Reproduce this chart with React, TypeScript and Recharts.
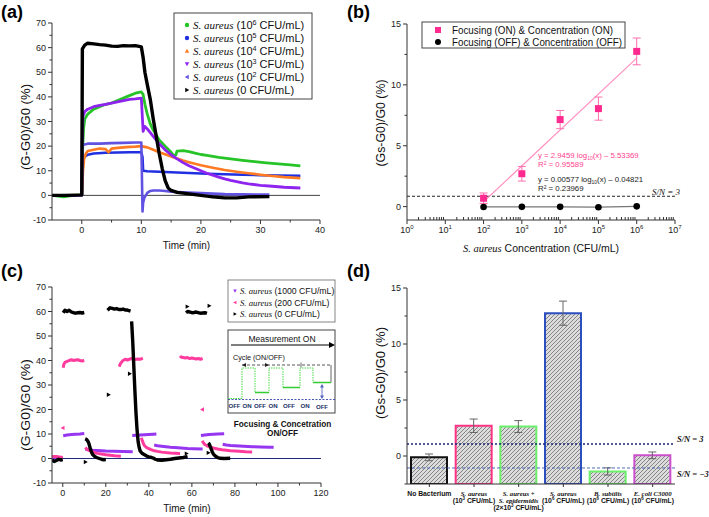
import React from "react";
import {
  ComposedChart,
  BarChart,
  Bar,
  Cell,
  Line,
  Scatter,
  XAxis,
  YAxis,
  ReferenceLine,
  ErrorBar,
} from "recharts";

const SANS = "'Liberation Sans', Arial, Helvetica, sans-serif";
const SERIF = "'Liberation Serif', 'Times New Roman', serif";
const AX = "#333";

type Pt = [number, number];

// ---------- (a) single run per concentration ----------
const A_X_TICKS = [0, 10, 20, 30, 40];
const A_Y_TICKS = [-10, 0, 10, 20, 30, 40, 50, 60, 70];
const A_CONC = ["10^6", "10^5", "10^4", "10^3", "10^2", "0"];

const A_1E6: Pt[] = [
  [-5, 0], [-4, -0.3], [-3, -0.6], [-2, -0.2], [-1, 0], [0, 0.2], [0.15, 19], [0.3, 27], [0.5, 31],
  [1, 33], [2, 35], [3, 36], [4, 37], [5, 37.5], [6, 38.5], [7, 39.5], [8, 40.5], [9, 41.5], [10, 42],
  [10.3, 41], [10.6, 37], [11, 33], [11.5, 29], [12, 26.5], [13, 22.5], [14, 20], [15, 17.5], [15.5, 16],
  [15.8, 16.5], [16, 18], [17, 18.2], [18, 17.8], [19, 17.2], [20, 16.6], [21, 16.2], [22, 15.8],
  [23, 15.4], [25, 14.8], [27, 14.2], [29, 13.7], [31, 13.2], [33, 12.8], [35, 12.4], [36.7, 12],
];
const A_1E5: Pt[] = [
  [-5, 0], [0, 0.1], [0.1, 12.5], [0.3, 15], [0.6, 16], [1, 16.5], [2, 17], [4, 17.3], [6, 17.4],
  [8, 17.5], [10, 17.5], [10.2, 15.5], [10.3, 10], [11, 9.8], [13, 9.6], [15, 9.4], [18, 9.1],
  [21, 8.8], [24, 8.6], [27, 8.4], [30, 8.2], [33, 8.1], [36.7, 8],
];
const A_1E4: Pt[] = [
  [-5, 0], [0, 0.1], [0.1, 4], [0.2, 10], [0.4, 15], [0.7, 17], [1, 18], [2, 18.5], [3, 19], [4, 18.8],
  [4.5, 17.5], [5, 19], [6, 19.3], [7, 19.5], [8, 19.7], [9, 19.8], [10, 20], [11, 19.5], [12, 18.5],
  [13, 17.5], [14, 16.7], [15, 15.8], [16, 15], [17, 14.2], [18, 13.5], [19, 12.8], [20, 12.2],
  [22, 11.2], [24, 10.3], [26, 9.6], [28, 9], [30, 8.4], [32, 7.9], [34, 7.4], [36.7, 7],
];
const A_1E3: Pt[] = [
  [-5, 0], [0, 0.1], [0.05, 20], [0.2, 32], [0.5, 34], [1, 35], [2, 36], [3, 36.5], [4, 37], [5, 37.5],
  [6, 38], [7, 38.5], [8, 39], [9, 39.2], [10, 39.5], [10.3, 26], [10.6, 28], [11, 27], [11.5, 25.5],
  [12, 24], [13, 21], [14, 18.5], [15, 16.5], [16, 14.8], [17, 13.3], [18, 12], [19, 11], [20, 10],
  [21, 9], [22, 8.2], [23, 7.4], [24, 6.7], [25, 6.1], [26, 5.6], [27, 5.1], [28, 4.7], [30, 4.1],
  [32, 3.7], [34, 3.3], [36.7, 3],
];
const A_1E2: Pt[] = [
  [-5, 0], [0, 0.1], [0.1, 20.5], [1, 21], [3, 21], [5, 21.2], [7, 21.3], [9, 21.5], [10, 21.5],
  [10.2, -6.5], [10.3, -3], [10.5, -1], [11, 1], [11.5, 1.8], [12, 2], [13, 2], [14, 1.8], [15, 1.5],
  [17, 1.2], [19, 1], [21, 0.8], [24, 0.5], [27, 0.4], [31.5, 0.3],
];
const A_0: Pt[] = [
  [-5, 0], [-3, 0], [-1, 0.1], [0, 0.2], [0.1, 59.5], [0.5, 61], [1, 61.8], [2, 61.5], [3, 61.2],
  [4, 61], [5, 60.6], [6, 60.5], [7, 60.8], [8, 60.7], [9, 60.8], [10, 60.3], [10.3, 56], [10.6, 50],
  [11, 45], [11.5, 39], [12, 31], [12.5, 24], [13, 17], [13.5, 11], [14, 6], [14.5, 3], [15, 2],
  [16, 1.2], [18, 0.6], [20, 0], [22, -0.6], [24, -1], [26, -1], [28, -0.6], [31.5, -0.5],
];

// ---------- (b) calibration ----------
const B_CONC = [1e2, 1e3, 1e4, 1e5, 1e6];
const B_ON = [0.69, 2.7, 7.15, 8.05, 12.75];
const B_ON_ERR = [0.43, 0.6, 0.75, 0.95, 1.1];
const B_OFF = [-0.03, -0.02, -0.02, -0.05, 0.02];
const B_FIT_X = [1e2, 1e6];
const B_FIT_Y = [0.4, 12.2];
const B_X_TICKS = [1, 10, 1e2, 1e3, 1e4, 1e5, 1e6, 1e7];
const B_Y_TICKS = [0, 5, 10, 15];
const B_SN = 0.85;

// ---------- (c) on/off cycles ----------
const C_X_TICKS = [0, 20, 40, 60, 80, 100, 120];
const C_Y_TICKS = [-10, 0, 10, 20, 30, 40, 50, 60, 70];
const C_CONC = ["1000", "200", "0"];

const C_1000: Pt[][] = [
  [[-5, 0.2], [0, 0.2]],
  [[0.2, 9.3], [2, 9.6], [4, 9.8], [6, 9.9], [8, 10], [10, 10.2]],
  [[10.5, 3.8], [12, 3.6], [14, 3.4], [16, 3.3], [18, 3.2], [20, 3.1], [24, 3], [28, 2.9], [32.5, 2.8]],
  [[32.3, 9.4], [34, 9.5], [36, 9.6], [38, 9.7], [40, 9.8], [42, 9.9], [43.5, 10]],
  [[42.5, 5.5], [44, 5.2], [46, 5], [48, 4.8], [50, 4.6], [52, 4.5], [55, 4.3], [58, 4.1], [61, 4], [65, 3.9]],
  [[64.2, 9.4], [66, 9.6], [68, 9.8], [70, 9.9], [72, 10], [75, 10.1]],
  [[74.3, 5.8], [76, 5.5], [78, 5.3], [80, 5.2], [84, 5], [88, 4.8], [92, 4.7], [96, 4.6], [98, 4.6]],
];
const C_200: Pt[][] = [
  [[-5, 0.8], [-3, 0.8], [-1, 0.5], [0, 0.5]],
  [[0.2, 37], [0.5, 38.5], [1, 39.2], [2, 39.6], [3, 40], [4, 40.3], [5, 40], [6, 40.2], [7, 40.3], [8, 40], [9, 39.8], [10, 40]],
  [[10.5, 4.5], [11, 4], [12, 3.4], [13, 3], [14, 2.7], [15, 2.4], [16, 2.1], [18, 1.8], [20, 1.5], [22, 1.3], [24, 1.1], [27, 0.9]],
  [[26.2, 37.5], [27, 39], [28, 40], [29, 40.5], [30, 40.2], [31, 40.5], [32, 40.8], [33, 40.3], [34, 40.5], [35, 40.6], [36, 40.5], [37.2, 41]],
  [[36.5, 8.5], [37, 7.2], [37.5, 6], [38, 5.2], [39, 4.4], [40, 4], [41, 3.6], [42, 3.3], [44, 2.9], [46, 2.6], [48, 2.4], [50, 2.2], [52, 2.1], [54.5, 2]],
  [[54.5, 41], [55, 41.5], [56, 41.2], [57, 41], [58, 41.2], [59, 40.8], [60, 41], [61, 40.8], [62, 40.6], [63, 40.8], [64, 40.5], [65, 40.8]],
  [[64.8, 7.2], [65.5, 6.2], [66, 5.7], [67, 5.2], [68, 4.8], [70, 4.3], [72, 3.9], [74, 3.6], [76, 3.4], [78, 3.2], [80, 3.1], [82, 3], [85, 2.8], [88, 2.7]],
];
const C_0: Pt[][] = [
  [[-5, -0.5], [-4, -1.2], [-3, -0.8], [-2, -0.3], [-1, -0.6], [0, -0.4]],
  [[0.2, 59.5], [1, 60.5], [2, 60], [3, 60.5], [4, 59.8], [5, 59.5], [6, 59.3], [7, 59.5], [8, 59.6], [9, 59.4], [10, 59.6]],
  [[10.4, 8], [11, 7.8], [11.5, 7.3], [12, 6.5], [12.5, 5], [13, 3.5], [13.5, 2.3], [14, 1.5], [15, 0.7], [16, 0.3], [17, 0], [18, -0.3], [19, -0.5], [20, -0.4]],
  [[20.8, 60.5], [22, 61.5], [23, 61.3], [24, 61], [25, 61.2], [26, 60.8], [27, 60.8], [28, 61], [29, 60.6], [30, 60.6], [31.5, 60.2]],
  [[32, 56], [32.5, 48], [33, 38], [33.5, 28], [34, 19], [34.5, 12], [35, 7], [35.5, 4.5], [36, 3], [37, 2], [38, 1.5], [39, 1], [40, 0.7], [41, 0.5], [42, 0.2], [43, -0.3], [44, -0.6], [46, -0.7], [48, -0.5], [50, -0.3], [52, 0], [54, 0.2], [56, 0.4], [58, 0.8]],
  [[57.3, 59.5], [58, 60], [59, 59.8], [60, 59.5], [61, 59.6], [62, 59.8], [63, 59.5], [64, 59.3], [65, 59.4], [66, 59.5], [67, 59.2]],
  [[67.6, 6.3], [68, 6], [68.5, 5], [69, 3.8], [69.5, 2.7], [70, 1.8], [71, 0.9], [72, 0.4], [73, 0.1], [75, 0], [77.8, 0.1]],
];
const C_0_STRAY: Pt[] = [[10.6, -1.4], [21.3, 26], [31.1, 34.6], [57.9, 62], [68.1, 62.3], [67.7, 2.3], [57.5, 2]];
const C_200_STRAY: Pt[] = [[0, 12.5], [64.8, 20]];

// ---------- (d) selectivity ----------
const D_NAMES = ["none", "sa3", "mix", "sa6", "bs", "ec"];
const D_LABELS = [
  ["No Bacterium"],
  ["S. aureus", "(10^3 CFU/mL)"],
  ["S. aureus +", "S. epidermidis", "(2×10^3 CFU/mL)"],
  ["S. aureus", "(10^6 CFU/mL)"],
  ["B. subtilis", "(10^6 CFU/mL)"],
  ["E. coli C3000", "(10^6 CFU/mL)"],
];
const D_VALUES = [-0.12, 2.7, 2.63, 12.75, -1.38, 0.06];
const D_ERR = [0.3, 0.6, 0.53, 1.08, 0.32, 0.3];
const D_Y_TICKS = [0, 5, 10, 15];
const D_FLOOR = -2.5;
const D_SN = [1.07, -1.07];

// ---------- helpers ----------
const rows = (pts: Pt[]) => pts.map(([x, y]) => ({ x, y }));
const gapped = (segs: Pt[][]) =>
  segs.flatMap((seg, i) => {
    const r: { x: number; y: number | null }[] = rows(seg);
    return i < segs.length - 1 ? [...r, { x: seg[seg.length - 1][0], y: null }] : r;
  });
const withMinors = (m: number[]) =>
  m.flatMap((v, i) => (i < m.length - 1 ? [v, (v + m[i + 1]) / 2] : [v]));
const logTicks = (m: number[]) =>
  m.flatMap((v, i) => (i < m.length - 1 ? [v, ...[2, 3, 4, 5, 6, 7, 8, 9].map((k) => k * v)] : [v]));
const near = (a: number, b: number) => Math.abs(a - b) <= 1e-6 * Math.max(1, Math.abs(b));

const TICK_STYLE = { fontSize: 9, fill: "#222", fontFamily: SANS };

function sup(text: string, size: number) {
  const parts = text.split(/\^(\d+)/);
  return parts.map((p, i) =>
    i % 2 === 1 ? (
      <tspan key={i} dy={-size * 0.38} fontSize={size * 0.65}>{p}</tspan>
    ) : (
      <tspan key={i} dy={i > 0 ? size * 0.38 : 0}>{p}</tspan>
    )
  );
}

function xTick(majors: number[], fmt: (v: number) => React.ReactNode, minorUp = false) {
  return (p: any) => {
    const { x, y, payload } = p;
    const major = majors.some((m) => near(payload.value, m));
    const y1 = major ? y : minorUp ? y - 3 : y;
    const y2 = major ? y + 4 : minorUp ? y : y + 2.5;
    return (
      <g>
        <line x1={x} x2={x} y1={y1} y2={y2} stroke={AX} strokeWidth={1} />
        {major && (
          <text x={x} y={y + 13} textAnchor="middle" style={TICK_STYLE}>
            {fmt(payload.value)}
          </text>
        )}
      </g>
    );
  };
}

function yTick(majors: number[]) {
  return (p: any) => {
    const { x, y, payload } = p;
    const major = majors.some((m) => near(payload.value, m));
    return (
      <g>
        <line x1={x - (major ? 4 : 2.5)} x2={x} y1={y} y2={y} stroke={AX} strokeWidth={1} />
        {major && (
          <text x={x - 6} y={y + 3} textAnchor="end" style={TICK_STYLE}>
            {payload.value}
          </text>
        )}
      </g>
    );
  };
}

type Shape = "circle" | "square" | "up" | "down" | "left" | "right";
function markerPath(shape: Shape, x: number, y: number, r: number) {
  switch (shape) {
    case "up":
      return `M${x},${y - r}L${x + r},${y + r * 0.8}L${x - r},${y + r * 0.8}Z`;
    case "down":
      return `M${x},${y + r}L${x + r},${y - r * 0.8}L${x - r},${y - r * 0.8}Z`;
    case "left":
      return `M${x - r},${y}L${x + r * 0.8},${y - r}L${x + r * 0.8},${y + r}Z`;
    case "right":
      return `M${x + r},${y}L${x - r * 0.8},${y - r}L${x - r * 0.8},${y + r}Z`;
    case "square":
      return `M${x - r},${y - r}h${2 * r}v${2 * r}h${-2 * r}Z`;
    default:
      return `M${x - r},${y}a${r},${r} 0 1,0 ${2 * r},0a${r},${r} 0 1,0 ${-2 * r},0`;
  }
}

const A_SERIES = [
  { key: "a6", pts: A_1E6, color: "#27c427", w: 2.8, shape: "circle" as Shape },
  { key: "a5", pts: A_1E5, color: "#2030e0", w: 2.6, shape: "circle" as Shape },
  { key: "a4", pts: A_1E4, color: "#ff7a22", w: 2.6, shape: "up" as Shape },
  { key: "a3", pts: A_1E3, color: "#8e24ee", w: 2.8, shape: "down" as Shape },
  { key: "a2", pts: A_1E2, color: "#6252e2", w: 2.6, shape: "left" as Shape },
  { key: "a0", pts: A_0, color: "#000000", w: 3.4, shape: "right" as Shape },
];

const C_SERIES = [
  { key: "c1000", segs: C_1000, color: "#9636f0", w: 3, shape: "down" as Shape },
  { key: "c200", segs: C_200, color: "#ff3c9e", w: 3, shape: "left" as Shape },
  { key: "c0", segs: C_0, color: "#000000", w: 3.4, shape: "right" as Shape },
];

const D_COLORS = ["#111111", "#ff3385", "#6cf06c", "#2c4fc0", "#6cf06c", "#cc4fcc"];

const AXIS_COMMON = {
  stroke: AX,
  tickLine: false,
  tickSize: 0,
  tickMargin: 0,
  interval: 0 as const,
  allowDataOverflow: true,
};

function PanelA() {
  return (
    <div style={{ position: "absolute", left: 0, top: 0 }}>
      <ComposedChart width={354} height={250} margin={{ top: 23, right: 34, bottom: 0, left: 0 }}>
        <XAxis {...AXIS_COMMON} type="number" dataKey="x" domain={[-5, 40]} ticks={withMinors(A_X_TICKS)} height={30} tick={xTick(A_X_TICKS, (v) => v)} />
        <YAxis {...AXIS_COMMON} type="number" dataKey="y" domain={[-10, 70]} ticks={withMinors(A_Y_TICKS)} width={52} tick={yTick(A_Y_TICKS)} />
        <ReferenceLine y={0} stroke="#444" strokeWidth={1} />
        {A_SERIES.map((s) => (
          <Line key={s.key} data={rows(s.pts)} dataKey="y" type="linear" stroke={s.color} strokeWidth={s.w} strokeLinejoin="round" dot={false} activeDot={false} isAnimationActive={false} />
        ))}
      </ComposedChart>
    </div>
  );
}

function PanelB() {
  const on = B_CONC.map((x, i) => ({ x, y: B_ON[i], err: B_ON_ERR[i] }));
  const off = B_CONC.map((x, i) => ({ x, y: B_OFF[i] }));
  const fit = B_FIT_X.map((x, i) => ({ x, y: B_FIT_Y[i] }));
  return (
    <div style={{ position: "absolute", left: 355, top: 0 }}>
      <ComposedChart width={354} height={250} margin={{ top: 24, right: 34, bottom: 0, left: 0 }}>
        <XAxis {...AXIS_COMMON} type="number" dataKey="x" scale="log" domain={[1, 1e7]} ticks={logTicks(B_X_TICKS)} height={30}
          tick={xTick(B_X_TICKS, (v) => (<>10<tspan dy={-4} fontSize={6}>{Math.round(Math.log10(v))}</tspan></>), true)} />
        <YAxis {...AXIS_COMMON} type="number" dataKey="y" domain={[-1.1, 15]} ticks={withMinors(B_Y_TICKS)} width={52} tick={yTick(B_Y_TICKS)} />
        <ReferenceLine y={B_SN} stroke="#222" strokeDasharray="3 2" strokeWidth={1} />
        <Line data={fit} dataKey="y" stroke="#ff8fc0" strokeWidth={1.2} dot={false} activeDot={false} isAnimationActive={false} />
        <Line data={off} dataKey="y" stroke="#777" strokeWidth={1.2} dot={false} activeDot={false} isAnimationActive={false} />
        <Scatter data={on} dataKey="y" fill="#ff2a8f" isAnimationActive={false}
          shape={(p: any) => <path d={markerPath("square", p.cx, p.cy, 3.5)} fill="#ff2a8f" />}>
          <ErrorBar dataKey="err" direction="y" width={4} stroke="#ff6fae" strokeWidth={1} />
        </Scatter>
        <Scatter data={off} dataKey="y" fill="#000" isAnimationActive={false}
          shape={(p: any) => <circle cx={p.cx} cy={p.cy} r={3.3} fill="#000" />} />
      </ComposedChart>
    </div>
  );
}

function PanelC() {
  return (
    <div style={{ position: "absolute", left: 0, top: 250 }}>
      <ComposedChart width={354} height={267} margin={{ top: 37, right: 33, bottom: 0, left: 0 }}>
        <XAxis {...AXIS_COMMON} type="number" dataKey="x" domain={[-5, 120]} ticks={withMinors(C_X_TICKS)} height={34} tick={xTick(C_X_TICKS, (v) => v)} />
        <YAxis {...AXIS_COMMON} type="number" dataKey="y" domain={[-10, 70]} ticks={withMinors(C_Y_TICKS)} width={52} tick={yTick(C_Y_TICKS)} />
        <ReferenceLine y={0} stroke="#1c2a78" strokeWidth={1} />
        {C_SERIES.map((s) => (
          <Line key={s.key} data={gapped(s.segs)} dataKey="y" type="linear" stroke={s.color} strokeWidth={s.w} strokeLinejoin="round" dot={false} activeDot={false} isAnimationActive={false} />
        ))}
        <Scatter data={rows(C_200_STRAY)} dataKey="y" fill="#ff3c9e" isAnimationActive={false}
          shape={(p: any) => <path d={markerPath("left", p.cx, p.cy, 2.2)} fill="#ff3c9e" />} />
        <Scatter data={rows(C_0_STRAY)} dataKey="y" fill="#000" isAnimationActive={false}
          shape={(p: any) => <path d={markerPath("right", p.cx, p.cy, 2.2)} fill="#000" />} />
      </ComposedChart>
    </div>
  );
}

function PanelD() {
  // bars stand on the bottom of the axis, as in the original figure
  const data = D_NAMES.map((name, i) => ({ name, value: [D_FLOOR, D_VALUES[i]], err: D_ERR[i] }));
  const tick = (p: any) => {
    const { x, y, index } = p;
    const lines = D_LABELS[index] ?? [];
    return (
      <g>
        <line x1={x} x2={x} y1={y} y2={y + 3} stroke={AX} />
        {lines.map((t, i) => {
          const plain = t.startsWith("(") || t === "No Bacterium";
          return (
            <text key={i} x={x} y={y + 11.5 + i * 7} textAnchor="middle" fontSize={6.8} fontWeight="bold"
              fontFamily={plain ? SANS : SERIF} fontStyle={plain ? "normal" : "italic"} fill="#111">
              {sup(t, 6.8)}
            </text>
          );
        })}
      </g>
    );
  };
  return (
    <div style={{ position: "absolute", left: 355, top: 250 }}>
      <BarChart width={354} height={267} data={data} margin={{ top: 38, right: 34, bottom: 0, left: 0 }} barSize={36}>
        <defs>
          <pattern id="hatch" patternUnits="userSpaceOnUse" width="4" height="4">
            <rect width="4" height="4" fill="#dcdcdc" />
            <path d="M-1,1 l2,-2 M0,4 l4,-4 M3,5 l2,-2" stroke="#7a7a7a" strokeWidth="0.9" />
          </pattern>
        </defs>
        <XAxis {...AXIS_COMMON} dataKey="name" height={33} tick={tick} />
        <YAxis {...AXIS_COMMON} type="number" domain={[D_FLOOR, 15]} ticks={[D_FLOOR, ...withMinors(D_Y_TICKS)]} width={52} tick={yTick(D_Y_TICKS)} />
        <Bar dataKey="value" fill="url(#hatch)" isAnimationActive={false}>
          {data.map((d, i) => (
            <Cell key={d.name} fill="url(#hatch)" stroke={D_COLORS[i]} strokeWidth={2} />
          ))}
          <ErrorBar dataKey="err" direction="y" width={4} stroke="#666" strokeWidth={1} />
        </Bar>
        <ReferenceLine y={D_SN[0]} stroke="#1a2470" strokeDasharray="2 2" strokeWidth={1.3} />
        <ReferenceLine y={D_SN[1]} stroke="#3a5bb0" strokeDasharray="3 2" strokeWidth={0.9} />
      </BarChart>
    </div>
  );
}

function LegendLine({ x, y, conc, size }: { x: number; y: number; conc: string; size: number }) {
  return (
    <text x={x} y={y} fontSize={size} fontFamily={SANS} fill="#111">
      <tspan fontFamily={SERIF} fontStyle="italic">S. aureus</tspan>
      {sup(` (${conc} CFU/mL)`, size)}
    </text>
  );
}

function Overlay() {
  const title = { fontFamily: SANS, fill: "#111" };
  const panel = { fontFamily: SANS, fontWeight: "bold" as const, fontSize: 18, fill: "#000" };
  const inset = "#223366";
  return (
    <svg width={709} height={517} style={{ position: "absolute", left: 0, top: 0, pointerEvents: "none" }}>
      <text x={1} y={17.5} {...panel}>(a)</text>
      <text x={347} y={17.5} {...panel}>(b)</text>
      <text x={1} y={276.5} {...panel}>(c)</text>
      <text x={347} y={276.5} {...panel}>(d)</text>

      {/* axis titles */}
      <text transform="translate(29.5,127) rotate(-90)" textAnchor="middle" fontSize={12} textLength={86} lengthAdjust="spacingAndGlyphs" {...title}>(G-G0)/G0 (%)</text>
      <text x={186.5} y={249} textAnchor="middle" fontSize={10} {...title}>Time (min)</text>
      <text transform="translate(385,123) rotate(-90)" textAnchor="middle" fontSize={12} textLength={87} lengthAdjust="spacingAndGlyphs" {...title}>(Gs-G0)/G0 (%)</text>
      <text x={541} y={252} textAnchor="middle" fontSize={10.5} {...title}>
        <tspan fontFamily={SERIF} fontStyle="italic">S. aureus</tspan> Concentration (CFU/mL)
      </text>
      <text transform="translate(30,405) rotate(-90)" textAnchor="middle" fontSize={12} textLength={92} lengthAdjust="spacingAndGlyphs" {...title}>(G-G0)/G0 (%)</text>
      <text x={187} y={512} textAnchor="middle" fontSize={10} {...title}>Time (min)</text>
      <text transform="translate(385,373) rotate(-90)" textAnchor="middle" fontSize={12} textLength={92} lengthAdjust="spacingAndGlyphs" {...title}>(Gs-G0)/G0 (%)</text>

      {/* legend (a) */}
      <rect x={174} y={13} width={138} height={86} fill="#fff" stroke="#444" strokeWidth={1} />
      {A_SERIES.map((s, i) => (
        <g key={s.key}>
          <path d={markerPath(s.shape, 187, 25 + i * 13, 2.2)} fill={s.color} />
          <LegendLine x={193} y={29 + i * 13} conc={A_CONC[i]} size={11} />
        </g>
      ))}

      {/* legend (b) */}
      <rect x={422} y={22} width={203} height={26} fill="#fff" stroke="#444" strokeWidth={1} />
      <path d={markerPath("square", 438, 30, 3)} fill="#ff2a8f" />
      <text x={452} y={33.5} fontSize={10} fontFamily={SANS} fill="#111" textLength={161} lengthAdjust="spacingAndGlyphs">Focusing (ON) &amp; Concentration (ON)</text>
      <circle cx={438} cy={42} r={3} fill="#000" />
      <text x={452} y={45.5} fontSize={10} fontFamily={SANS} fill="#111" textLength={170} lengthAdjust="spacingAndGlyphs">Focusing (OFF) &amp; Concentration (OFF)</text>

      {/* fit equations (b) */}
      <g fontFamily={SANS} fontSize={7.8}>
        <text x={538} y={158} fill="#ff3f8f">y = 2.9459 log<tspan dy={1.5} fontSize={5}>10</tspan><tspan dy={-1.5}>(x) – 5.53369</tspan></text>
        <text x={538} y={167} fill="#ff3f8f">R<tspan dy={-2.5} fontSize={5}>2</tspan><tspan dy={2.5}> = 0.95589</tspan></text>
        <text x={538} y={182} fill="#222">y = 0.00577 log<tspan dy={1.5} fontSize={5}>10</tspan><tspan dy={-1.5}>(x) – 0.04821</tspan></text>
        <text x={538} y={191} fill="#222">R<tspan dy={-2.5} fontSize={5}>2</tspan><tspan dy={2.5}> = 0.23969</tspan></text>
      </g>
      <text x={652} y={194.5} fontSize={9} fontFamily={SERIF} fontStyle="italic" fill="#111">S/N = 3</text>

      {/* legend (c) */}
      <rect x={228} y={280} width={107} height={42} fill="#fff" stroke="#666" strokeWidth={0.8} />
      {C_SERIES.map((s, i) => (
        <g key={s.key}>
          <path d={markerPath(s.shape, 235, 291 + i * 11.5, 1.8)} fill={s.color} />
          <LegendLine x={240} y={294 + i * 11.5} conc={C_CONC[i]} size={8.7} />
        </g>
      ))}

      {/* inset schematic (c) */}
      <rect x={228} y={330} width={107} height={83} fill="#fff" stroke="#444" strokeWidth={1} />
      <text x={282} y={342} textAnchor="middle" fontSize={8.5} fontFamily={SANS} fill="#111">Measurement ON</text>
      <line x1={231} y1={345} x2={329} y2={345} stroke="#000" strokeWidth={1} />
      <path d="M329,342 L335,345 L329,348 Z" fill="#000" />
      <text x={233} y={359.5} fontSize={7.2} fontFamily={SANS} fill="#111">Cycle (ON/OFF)</text>
      <line x1={242} y1={365} x2={331} y2={365} stroke="#444" strokeWidth={0.9} strokeDasharray="3 2" />
      <path d="M242,365 l4,-2 v4 Z M269,365 l-4,-2 v4 Z" fill="#222" />
      <line x1={301} y1={362.5} x2={301} y2={367.5} stroke="#444" strokeWidth={0.8} />
      <line x1={331} y1={365} x2={331} y2={382.5} stroke="#666" strokeWidth={1} />
      <path d="M228,398.5 H242 V368 H255 V392.5 H269 V368 H283 V387.5 H300 V368 H313 V382.5 H331" fill="none" stroke="#44dd44" strokeWidth={1} strokeDasharray="1.5 1" />
      <path d="M255,392.5 H269 M283,387.5 H300 M313,382.5 H331" stroke="#33cc33" strokeWidth={1.3} />
      <line x1={228} y1={399.5} x2={335} y2={399.5} stroke="#3344aa" strokeWidth={0.9} strokeDasharray="2 1.5" />
      <line x1={322} y1={385} x2={322} y2={398} stroke="#5566bb" strokeWidth={0.9} />
      <path d="M322,384 l-2,3.5 h4 Z M322,399 l-2,-3.5 h4 Z" fill="#5566bb" />
      <g fontFamily={SANS} fontSize={6.1} fontWeight="bold" fill={inset} textAnchor="middle">
        <text x={234.5} y={407.5}>OFF</text>
        <text x={247} y={407.5}>ON</text>
        <text x={260} y={407.5}>OFF</text>
        <text x={273} y={407.5}>ON</text>
        <text x={289} y={407.5}>OFF</text>
        <text x={305} y={407.5}>ON</text>
        <text x={322} y={408.5}>OFF</text>
      </g>
      <text x={282.5} y={426.5} textAnchor="middle" fontSize={8.2} fontWeight="bold" fontFamily={SANS} fill="#111">Focusing &amp; Concetration</text>
      <text x={282.5} y={436} textAnchor="middle" fontSize={8.2} fontWeight="bold" fontFamily={SANS} fill="#111">ON/OFF</text>

      {/* S/N labels (d) */}
      <text x={677} y={442} fontSize={8.5} fontWeight="bold" fontStyle="italic" fontFamily={SERIF} fill="#111">S/N = 3</text>
      <text x={677} y={477} fontSize={8.5} fontWeight="bold" fontStyle="italic" fontFamily={SERIF} fill="#111">S/N = −3</text>
    </svg>
  );
}

export default function App() {
  return (
    <div style={{ position: "absolute", left: 0, top: 0, width: 709, height: 517, background: "#fff", overflow: "hidden" }}>
      <PanelA />
      <PanelB />
      <PanelC />
      <PanelD />
      <Overlay />
    </div>
  );
}
